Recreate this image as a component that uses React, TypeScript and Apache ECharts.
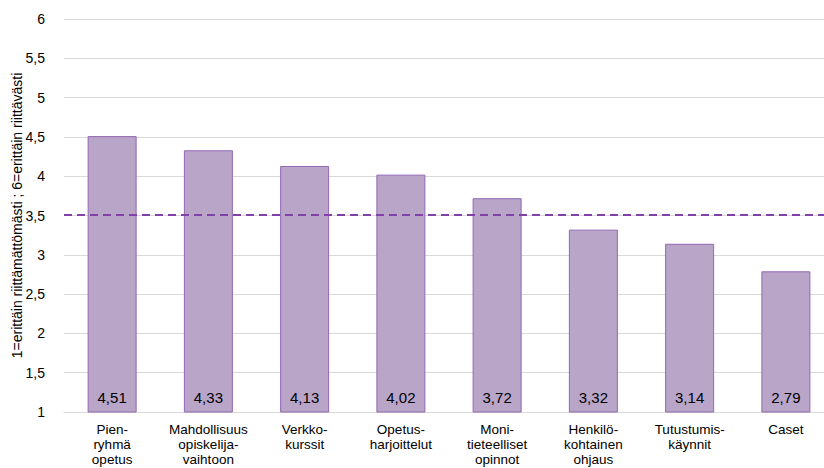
import React, { useEffect, useRef } from "react";
import * as echarts from "echarts";

const categories = [
  "Pien-\nryhmä\nopetus",
  "Mahdollisuus\nopiskelija-\nvaihtoon",
  "Verkko-\nkurssit",
  "Opetus-\nharjoittelut",
  "Moni-\ntieteelliset\nopinnot",
  "Henkilö-\nkohtainen\nohjaus",
  "Tutustumis-\nkäynnit",
  "Caset",
];
const values = [4.51, 4.33, 4.13, 4.02, 3.72, 3.32, 3.14, 2.79];
const referenceLine = 3.51;
const yAxisName = "1=erittäin riittämättömästi ; 6=erittäin riittävästi";

const fmt = (v: number) => String(v).replace(".", ",");
const FONT = "Liberation Sans, Arial, sans-serif";

export default function App() {
  const ref = useRef<HTMLDivElement>(null);
  useEffect(() => {
    if (!ref.current) return;
    const chart = echarts.init(ref.current, undefined, { renderer: "svg" });
    chart.setOption({
      animation: false,
      textStyle: { fontFamily: FONT },
      grid: { left: 64, top: 19, bottom: 56, width: 770, outerBoundsMode: "none", containLabel: false },
      xAxis: {
        type: "category",
        data: categories,
        axisLine: { show: true, lineStyle: { color: "#d9d9d9", width: 1 } },
        axisTick: { show: false },
        axisLabel: {
          color: "#000",
          fontSize: 13.5,
          lineHeight: 15,
          margin: 10,
          interval: 0,
          fontFamily: FONT,
        },
      },
      yAxis: {
        type: "value",
        min: 1,
        max: 6,
        interval: 0.5,
        name: yAxisName,
        nameLocation: "middle",
        nameRotate: 90,
        nameGap: 40,
        nameMoveOverlap: false,
        nameTextStyle: { color: "#000", fontSize: 14, fontFamily: FONT },
        axisLine: { show: false },
        axisTick: { show: false },
        axisLabel: {
          color: "#000",
          fontSize: 14,
          margin: 19,
          formatter: (v: number) => fmt(v),
          fontFamily: FONT,
        },
        splitLine: { lineStyle: { color: "#d9d9d9", width: 1 } },
      },
      series: [
        {
          type: "bar",
          data: values,
          barWidth: 49,
          itemStyle: { color: "#b8a5c8", borderColor: "#9367b3", borderWidth: 1 },
          label: {
            show: true,
            position: "insideBottom",
            distance: 8,
            color: "#000",
            fontSize: 15,
            formatter: (p: any) => fmt(p.value),
            fontFamily: FONT,
          },
          markLine: {
            silent: true,
            symbol: ["none", "none"],
            label: { show: false },
            lineStyle: { color: "#8042a8", width: 2, type: [8, 5] },
            data: [{ yAxis: referenceLine }],
          },
        },
      ],
    });
    return () => chart.dispose();
  }, []);
  return (
    <div style={{ position: "absolute", left: 0, top: 0, width: 824, height: 468, overflow: "hidden" }}>
      <div ref={ref} style={{ width: 840, height: 468 }} />
    </div>
  );
}
